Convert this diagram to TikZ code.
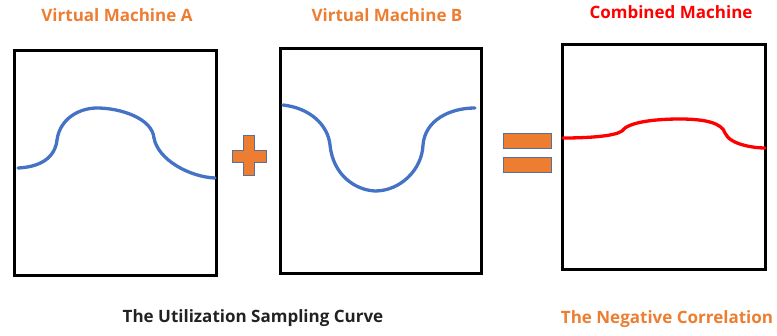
\documentclass[tikz,border=0pt]{standalone}
\usepackage{fontspec}
\setmainfont{Open Sans}
\definecolor{vmorange}{HTML}{ED7D31}
\definecolor{vmblue}{HTML}{4472C4}
\definecolor{edgeblue}{HTML}{5B6F9C}
\definecolor{darktext}{HTML}{222222}
\begin{document}
\begin{tikzpicture}[x=1pt,y=-1pt,
  machine/.style={draw=black,line width=3pt,inner sep=0pt,anchor=north west},
  title/.style={font=\bfseries\fontsize{17}{20}\selectfont},
  curveA/.style={draw=vmblue,line width=3.3pt,line cap=round},
  curveC/.style={draw=red,line width=3.3pt,line cap=round},
  opshape/.style={fill=vmorange,draw=edgeblue,line width=0.8pt},
  eqbar/.style={opshape,minimum width=48pt,minimum height=15pt,inner sep=0pt,anchor=north west}
]
\useasboundingbox (0,0) rectangle (777,335);
% boxes
\node[machine,minimum width=202pt,minimum height=225pt] (boxA) at (13,49) {};
\node[machine,minimum width=201pt,minimum height=225pt] (boxB) at (279,47) {};
\node[machine,minimum width=203pt,minimum height=225pt] (boxC) at (561,43) {};
% titles
\node[title,text=vmorange] (tA) at (117,15) {Virtual Machine A};
\node[title,text=vmorange] (tB) at (387,15) {Virtual Machine B};
\node[title,text=red] (tC) at (671,12) {Combined Machine};
\node[title,text=darktext] (cap1) at (253,318) {The Utilization Sampling Curve};
\node[title,text=vmorange] (cap2) at (667,319) {The Negative Correlation};
% curves
\draw[curveA] (18,168) .. controls (40,167) and (55,158) .. (57,140)
  .. controls (60,118) and (80,108) .. (97,108)
  .. controls (120,108) and (152,118) .. (154,138)
  .. controls (158,160) and (190,177) .. (215,178);
\draw[curveA] (283,105) .. controls (310,108) and (328,125) .. (330,145)
  .. controls (333,175) and (355,190) .. (375,191)
  .. controls (400,191) and (422,170) .. (423,145)
  .. controls (425,120) and (450,108) .. (475,108);
\draw[curveC] (563,138) .. controls (590,138) and (615,136) .. (622,131)
  .. controls (628,122) and (655,119) .. (680,119)
  .. controls (705,119) and (722,123) .. (725,133)
  .. controls (730,145) and (755,148) .. (765,148);
% plus
\path[opshape] (243,135) -- (254,135) -- (254,150) -- (266,150) -- (266,162) -- (254,162)
  -- (254,175) -- (243,175) -- (243,162) -- (232,162) -- (232,150) -- (243,150) -- cycle;
% equals
\node[eqbar] (eq1) at (503,133) {};
\node[eqbar] (eq2) at (503,157) {};
\end{tikzpicture}
\end{document}
